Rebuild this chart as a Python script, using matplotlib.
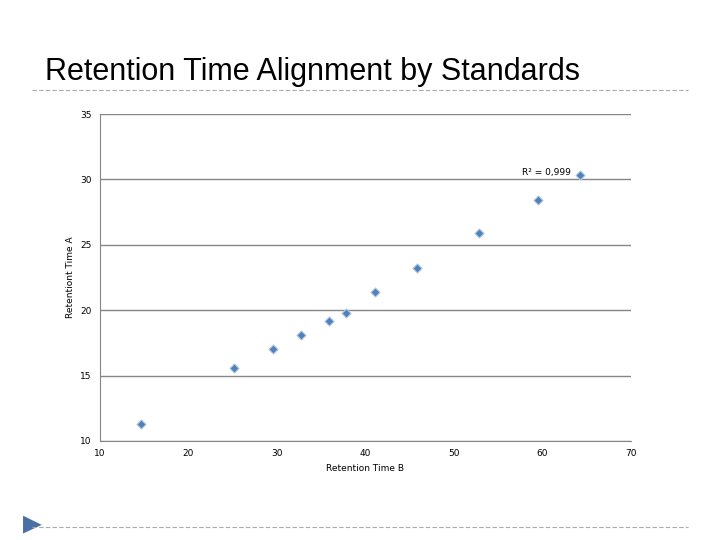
import matplotlib
matplotlib.use("Agg")
import matplotlib.pyplot as plt
from matplotlib.lines import Line2D
from matplotlib.patches import Polygon

x_vals = [14.6, 25.1, 29.5, 32.7, 35.9, 37.8, 41.1, 45.8, 52.8, 59.5, 64.2]
y_vals = [11.3, 15.6, 17.0, 18.1, 19.2, 19.8, 21.4, 23.2, 25.9, 28.4, 30.3]
x_ticks = [10, 20, 30, 40, 50, 60, 70]
y_ticks = [10, 15, 20, 25, 30, 35]

fig = plt.figure(figsize=(7.2, 5.4), dpi=100)
fig.text(0.062, 0.852, "Retention Time Alignment by Standards", fontsize=22, family="Liberation Sans")
for yy in (0.833, 0.024):
    fig.add_artist(Line2D([0.045, 0.955], [yy, yy], color="#aaaaaa", lw=0.8, ls=(0, (4, 2))))
fig.add_artist(Polygon([[0.032, 0.045], [0.032, 0.012], [0.058, 0.028]], closed=True,
                       facecolor="#4a6fa5", transform=fig.transFigure))

ax = fig.add_axes([100/720, 1-441/540, 531/720, 327/540])
ax.scatter(x_vals, y_vals, marker="D", s=22, color="#4f81bd", edgecolor="#b8cce4", linewidth=0.8, zorder=3)
ax.set_xlim(10, 70)
ax.set_ylim(10, 35)
ax.set_xticks(x_ticks)
ax.set_yticks(y_ticks)
ax.grid(axis="y", color="#868686", lw=1)
for s in ["top", "right"]:
    ax.spines[s].set_visible(False)
ax.spines["left"].set_color("#868686")
ax.spines["bottom"].set_color("#868686")
ax.tick_params(length=0, labelsize=6.5, pad=6)
ax.set_xlabel("Retention Time B", fontsize=6.5)
ax.set_ylabel("Retentiont Time A", fontsize=6.5)
ax.text(60.5, 30.5, "R² = 0,999", fontsize=6.5, ha="center", va="center")
fig.savefig("out.png", dpi=100)
